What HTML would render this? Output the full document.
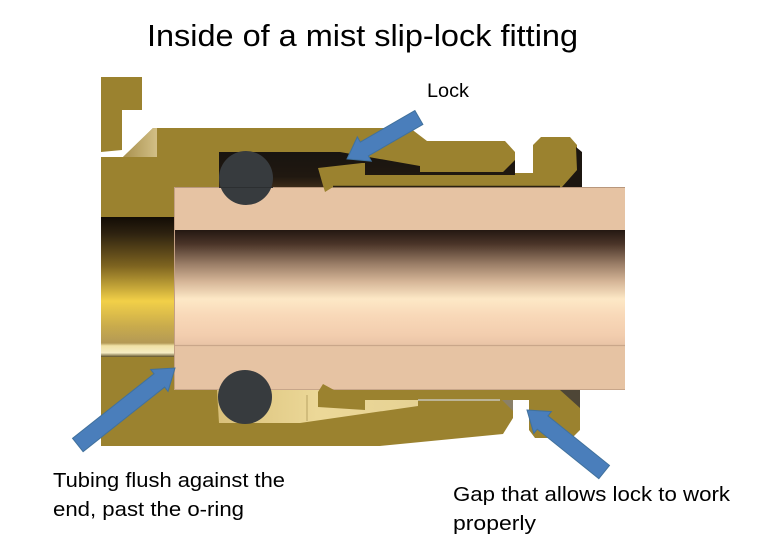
<!DOCTYPE html>
<html><head><meta charset="utf-8"><style>
html,body{margin:0;padding:0;background:#fff;}
svg{display:block;}
text{font-family:"Liberation Sans",Arial,sans-serif;fill:#000;}
</style></head><body>
<svg width="762" height="558" viewBox="0 0 762 558" xmlns="http://www.w3.org/2000/svg">
<defs>
<linearGradient id="bore" x1="0" y1="0" x2="0" y2="1">
<stop offset="0" stop-color="#241812"/>
<stop offset="0.12" stop-color="#4a3428"/>
<stop offset="0.3" stop-color="#9c7f68"/>
<stop offset="0.45" stop-color="#d6b698"/>
<stop offset="0.6" stop-color="#fde8c6"/>
<stop offset="0.75" stop-color="#f8d8b8"/>
<stop offset="0.92" stop-color="#f2cdae"/>
<stop offset="1" stop-color="#e9c4a6"/>
</linearGradient>
<linearGradient id="lbore" x1="0" y1="0" x2="0" y2="1">
<stop offset="0" stop-color="#120c05"/>
<stop offset="0.12" stop-color="#2e2210"/>
<stop offset="0.35" stop-color="#7e6420"/>
<stop offset="0.6" stop-color="#f2d048"/>
<stop offset="0.78" stop-color="#c9ab4c"/>
<stop offset="0.9" stop-color="#b49a55"/>
<stop offset="0.92" stop-color="#f0e2a6"/>
<stop offset="0.97" stop-color="#f6ecc4"/>
<stop offset="1" stop-color="#5e5028"/>
</linearGradient>
<linearGradient id="cav" x1="0" y1="0" x2="0" y2="1">
<stop offset="0" stop-color="#181410"/>
<stop offset="0.7" stop-color="#201810"/>
<stop offset="1" stop-color="#3a2a18"/>
</linearGradient>
<linearGradient id="lcav" x1="0" y1="0" x2="1" y2="0">
<stop offset="0" stop-color="#d9c07a"/>
<stop offset="0.5" stop-color="#ecd898"/>
<stop offset="1" stop-color="#e6d294"/>
</linearGradient>
<linearGradient id="chf" x1="0" y1="0" x2="1" y2="0">
<stop offset="0" stop-color="#a8904e"/>
<stop offset="1" stop-color="#d2bf86"/>
</linearGradient>
</defs>

<!-- top flange -->
<polygon points="101,77 142,77 142,110 122,110 122,150 101,152" fill="#9b822f"/>
<!-- top body -->
<polygon points="101,157 123,157 153,128 410,128 427,141 505,141 515,152 515,173 533,173 533,145 541,137 570,137 577,145 577,187 174,187 174,217 101,217" fill="#9b822f"/>
<polygon points="123,157 153,128 157,128 157,157" fill="url(#chf)"/>
<!-- top cavity -->
<polygon points="219,152 340,152 420,166 420,172 503,172 515,160 515,187 219,187" fill="url(#cav)"/>
<!-- right shadow top -->
<polygon points="576,147 582,152 582,187 562,187 577,170" fill="#1c1610"/>

<!-- left bore -->
<rect x="101" y="217" width="73" height="140" fill="url(#lbore)"/>

<!-- bottom housing -->
<polygon points="101,357 174,357 174,390 517,390 517,400 513,400 513,418 503,434 380,446 101,446" fill="#9b822f"/>
<!-- bottom ring -->
<polygon points="517,390 580,390 580,430 572,438 535,438 529,430 529,400 517,400" fill="#9b822f"/>
<polygon points="560,390 580,390 580,408" fill="#4e4636"/>
<polygon points="502,400 513,400 513,411" fill="#8a8068"/>
<!-- bottom light cavity -->
<polygon points="217,390 418,390 418,406 300,423 219,423" fill="url(#lcav)"/>
<line x1="307" y1="395" x2="307" y2="421" stroke="#b8a264" stroke-width="1"/>

<!-- tube -->
<rect x="174" y="187" width="451" height="203" fill="#e6c3a3"/>
<rect x="174" y="230" width="451" height="115" fill="url(#bore)"/>
<line x1="174" y1="345.5" x2="625" y2="345.5" stroke="#c9a68a" stroke-width="1.2"/>
<line x1="174" y1="187.5" x2="625" y2="187.5" stroke="#b8977c" stroke-width="1"/>
<line x1="174.5" y1="187" x2="174.5" y2="390" stroke="#c4a084" stroke-width="1"/>
<line x1="174" y1="389.5" x2="625" y2="389.5" stroke="#c8a68a" stroke-width="1"/>

<!-- top lock -->
<polygon points="318,168 362,163 365,163 365,175 560,175 560,187 333,187 325,192 322,182" fill="#9b822f"/>
<line x1="333" y1="186.5" x2="560" y2="186.5" stroke="#2a2010" stroke-width="1.5"/>
<!-- bottom lock -->
<polygon points="318,392 323,384 334,390 513,390 513,400 365,400 365,410 318,407" fill="#9b822f"/>
<line x1="418" y1="400" x2="500" y2="400" stroke="#c8c4b8" stroke-width="1.5"/>

<!-- o-rings -->
<circle cx="246" cy="178" r="27" fill="#373b3e"/>
<circle cx="245" cy="397" r="27" fill="#373b3e"/>
<line x1="219" y1="187.5" x2="273" y2="187.5" stroke="#2c2f31" stroke-width="1"/>

<!-- arrows -->
<g fill="#4a7ebb" stroke="#41719c" stroke-width="1">
<polygon transform="translate(347,159) rotate(-30)" points="0,0 20,-14 20,-8 83,-8 83,8 20,8 20,14"/>
<polygon transform="translate(175,368) rotate(141.6)" points="0,0 20,-14 20,-8.5 124,-8.5 124,8.5 20,8.5 20,14"/>
<polygon transform="translate(527,410) rotate(38.8)" points="0,0 20,-14 20,-8.5 99,-8.5 99,8.5 20,8.5 20,14"/>
</g>

<!-- text -->
<text x="147" y="46" font-size="31" textLength="431" lengthAdjust="spacingAndGlyphs">Inside of a mist slip-lock fitting</text>
<text x="427" y="97" font-size="19" textLength="42" lengthAdjust="spacingAndGlyphs">Lock</text>
<text x="53" y="487" font-size="20" textLength="232" lengthAdjust="spacingAndGlyphs">Tubing flush against the</text>
<text x="53" y="516" font-size="20" textLength="191" lengthAdjust="spacingAndGlyphs">end, past the o-ring</text>
<text x="453" y="501" font-size="20" textLength="277" lengthAdjust="spacingAndGlyphs">Gap that allows lock to work</text>
<text x="453" y="530" font-size="20" textLength="83" lengthAdjust="spacingAndGlyphs">properly</text>
</svg>
</body></html>
